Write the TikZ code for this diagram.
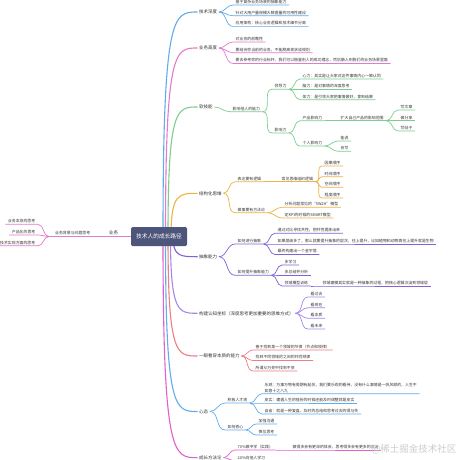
\documentclass[tikz,border=0pt]{standalone}
\usepackage{fontspec}
\setmainfont{Noto Sans CJK SC}
\usepackage{xcolor}
\usepackage{tikz}
\usetikzlibrary{positioning, backgrounds, calc}

\definecolor{rootbg}{RGB}{77,85,122}
\definecolor{cBlue}{RGB}{98,172,236}
\definecolor{cPink}{RGB}{228,122,204}
\definecolor{cGreen}{RGB}{125,206,142}
\definecolor{cGold}{RGB}{234,181,66}
\definecolor{cViolet}{RGB}{132,96,214}
\definecolor{cLilac}{RGB}{164,136,236}
\definecolor{cRed}{RGB}{240,124,132}
\definecolor{cMagenta}{RGB}{226,96,204}
\definecolor{inkgray}{RGB}{51,51,51}

\tikzset{
  %% Central topic
  rootbox/.style={
    rectangle, rounded corners=1.5pt, fill=rootbg, text=white,
    font=\fontsize{5.7}{6.5}\selectfont,
    minimum width=56pt, minimum height=19pt, inner sep=2pt
  },
  %% Main branch label
  topic/.style={
    font=\fontsize{4.5}{5.2}\selectfont, text=inkgray,
    inner xsep=1.5pt, inner ysep=1pt, anchor=west
  },
  %% Underlined text
  item/.style={
    font=\fontsize{3.9}{5.3}\selectfont, text=inkgray,
    inner xsep=2.5pt, inner ysep=1pt, anchor=south west
  },
  %% Lines
  twig/.style={draw=#1, line width=0.7pt},
  twig/.default=cBlue,
  trunk/.style={draw=#1, line width=1.1pt},
  trunk/.default=cBlue,
  %% Watermark
  wmark/.style={font=\fontsize{9.5}{10}\selectfont, text=black!20, inner sep=0pt}
}

\begin{document}
\begin{tikzpicture}[x=1pt, y=-1pt]
  \useasboundingbox (0,0) rectangle (460,460);

  %% Centre
  \node[rootbox] (root) at (159,236.5) {技术人的成长路径};

  %% Left: business
  \node[item, anchor=south east, minimum width=34pt,
        font=\fontsize{4.5}{5.2}\selectfont] (biz) at (root.west) {业务};
  \node[item, anchor=south east, minimum width=47pt] (bizbg) at (biz.south west)
        {业务背景与问题思考};
  \node[item, anchor=south east] (bizA) at (38,224.3) {业务本身的思考};
  \node[item, anchor=south east] (bizB) at (38,235)   {产品化的思考};
  \node[item, anchor=south east] (bizC) at (38,245.7) {技术实现方面的思考};
  \draw[twig=cPink] (bizbg.south west) -- (root.west);
  \foreach \b in {bizA, bizB, bizC}
    \draw[twig=cPink] (bizbg.south west) to[out=180,in=0] (\b.south east) -- (\b.south west);

  %% Technical depth
  \node[topic] (depth) at (197.5,12) {技术深度};
  \node[item] (depthA) at (233,5)    {基于复杂业务场景的抽象能力};
  \node[item] (depthB) at (233,15.7) {针对大用户量规模大数据量的可用性建设};
  \node[item] (depthC) at (233,26.4) {应用架构：核心业务逻辑和技术细节分离};
  \foreach \b in {depthA, depthB, depthC}
    \draw[twig=cBlue] (depth.east) to[out=0,in=180] (\b.south west) -- (\b.south east);

  %% Business height
  \node[topic] (height) at (197.5,48) {业务高度};
  \node[item] (heightA) at (233,42)   {对业务的前瞻性};
  \node[item] (heightB) at (233,52.7) {要结合你当前的业务，不能脱离现状谈规划};
  \node[item] (heightC) at (233,63.4)
        {要去参考你的行业标杆，我们可以借鉴别人的成功理念，然后融入到我们的业务场景里面};
  \foreach \b in {heightA, heightB, heightC}
    \draw[twig=cPink] (height.east) to[out=0,in=180] (\b.south west) -- (\b.south east);

  %% Soft skills
  \node[topic] (soft) at (197.5,107) {软技能};
  \node[item] (sway)  at (230,111.7) {影响他人的能力};
  \node[item] (lead)  at (272,89.3)  {领导力};
  \node[item] (leadA) at (300,79)    {心力：其实是让大家对这件事情内心一致认同};
  \node[item] (leadB) at (300,89.3)  {脑力：是对事情的深度思考};
  \node[item] (leadC) at (300,99.7)  {体力：是引领大家把事情做好，拿到结果};
  \node[item] (infl)  at (272,133)   {影响力};
  \node[item] (prod)  at (300,120.7) {产品影响力};
  \node[item] (prodA) at (338,120.7) {扩大自己产品的影响范围};
  \node[item] (essay) at (398,110)   {写文章};
  \node[item] (share) at (398,120.7) {做分享};
  \node[item] (post)  at (398,131)   {写帖子};
  \node[item] (self)  at (300,146)   {个人影响力};
  \node[item] (speak) at (338,141)   {能说};
  \node[item] (pen)   at (338,151.3) {会写};
  \draw[twig=cGreen] (soft.east) to[out=0,in=180] (sway.south west) -- (sway.south east);
  \foreach \a/\b in {sway/lead, lead/leadA, lead/leadB, lead/leadC, sway/infl,
                     infl/prod, prod/prodA, prodA/essay, prodA/share, prodA/post,
                     infl/self, self/speak, self/pen}
    \draw[twig=cGreen] (\a.south east) to[out=0,in=180] (\b.south west) -- (\b.south east);

  %% Structured thinking
  \node[topic] (frame) at (197.5,193.3) {结构化思维};
  \node[item] (logic) at (235,181.7) {表达要有逻辑};
  \node[item] (order) at (279,181.7) {常见思维组织逻辑};
  \node[item] (ordA)  at (322,166)   {因果顺序};
  \node[item] (ordB)  at (322,176.7) {时间顺序};
  \node[item] (ordC)  at (322,187.3) {空间顺序};
  \node[item] (ordD)  at (322,198)   {程度顺序};
  \node[item] (way)   at (235,212.7) {做事要有方法论};
  \node[item] (wayA)  at (282,207.3) {分析问题常见的“5W2H”模型};
  \node[item] (wayB)  at (282,218)   {定KPI的时候的SMART模型};
  \foreach \b in {logic, way}
    \draw[twig=cGold] (frame.east) to[out=0,in=180] (\b.south west) -- (\b.south east);
  \foreach \a/\b in {logic/order, order/ordA, order/ordB, order/ordC, order/ordD,
                     way/wayA, way/wayB}
    \draw[twig=cGold] (\a.south east) to[out=0,in=180] (\b.south west) -- (\b.south east);

  %% Abstraction
  \node[topic] (abst) at (197.5,256.7) {抽象能力};
  \node[item] (howto)  at (235,244)   {如何进行抽象};
  \node[item] (howA)   at (275,233.3) {通过对比寻找共性，把共性提炼出来};
  \node[item] (howB)   at (275,244)
        {如果层级多了，那么就要提升抽象的层次，往上提升，比如植物和动物再往上提升就是生物};
  \node[item] (howC)   at (275,254.5) {最终构建出一个金字塔};
  \node[item] (raise)  at (235,275.3) {如何提升抽象能力};
  \node[item] (raiseA) at (282,265)   {多学习};
  \node[item] (raiseB) at (282,275.5) {多总结并分析};
  \node[item] (raiseC) at (282,286)   {领域模型训练};
  \node[item] (model)  at (320,286)   {领域建模其实就是一种抽象的过程，把核心逻辑沉淀到领域层};
  \foreach \b in {howto, raise}
    \draw[twig=cViolet] (abst.east) to[out=0,in=180] (\b.south west) -- (\b.south east);
  \foreach \a/\b in {howto/howA, howto/howB, howto/howC,
                     raise/raiseA, raise/raiseB, raise/raiseC, raiseC/model}
    \draw[twig=cViolet] (\a.south east) to[out=0,in=180] (\b.south west) -- (\b.south east);

  %% Cognitive coordinates
  \node[topic] (cogn) at (197.5,313.3) {构建认知坐标（深度思考更加重要的思维方式）};
  \node[item] (past) at (308,297)   {看过去};
  \node[item] (now)  at (308,307.7) {看现在};
  \node[item] (core) at (308,318.3) {看本质};
  \node[item] (fut)  at (308,329)   {看未来};
  \foreach \b in {past, now, core, fut}
    \draw[twig=cLilac] (cogn.east) to[out=0,in=180] (\b.south west) -- (\b.south east);

  %% Seeing the essence
  \node[topic] (sight) at (197.5,356) {一眼看穿本质的能力};
  \node[item] (sightA) at (253,350)   {善于找到某一个领域的节律（节点和规律）};
  \node[item] (sightB) at (253,360.5) {找到不同领域的之间的共同规律};
  \node[item] (sightC) at (253,371)   {所谓从万变中找到不变};
  \foreach \b in {sightA, sightB, sightC}
    \draw[twig=cRed] (sight.east) to[out=0,in=180] (\b.south west) -- (\b.south east);

  %% Mindset
  \node[topic] (mood) at (197.5,411.5) {心态};
  \node[item] (talent) at (225,403) {积极人才观};
  \node[item, align=left] (talA) at (262,393.7)
        {乐观：万事万物有周期有起伏，我们要乐观的看待，没有什么事情是一帆风顺的，人生不\\如意十之八九};
  \node[item] (talB)  at (262,403) {皮实：遭遇人生的挫折的时候还能及时调整就是皮实};
  \node[item] (talC)  at (262,414) {自省：就是一种复盘，及时的总结和思考过去的得与失};
  \node[item] (heal)  at (225,430) {如何修心};
  \node[item] (healA) at (256,424) {加强沟通};
  \node[item] (healB) at (256,435) {换位思考};
  \foreach \b in {talent, heal}
    \draw[twig=cBlue] (mood.east) to[out=0,in=180] (\b.south west) -- (\b.south east);
  \foreach \a/\b in {talent/talA, talent/talB, talent/talC, heal/healA, heal/healB}
    \draw[twig=cBlue] (\a.south east) to[out=0,in=180] (\b.south west) -- (\b.south east);

  %% Growth method
  \node[topic] (grow) at (197.5,457.7) {成长方法论};
  \node[item] (doing)  at (235,450)   {70\%做中学（实践）};
  \node[item] (doingA) at (290,450)   {做得多会有更深的体会，思考得多会有更多的沉淀};
  \node[item] (peers)  at (235,460.7) {20\%向他人学习};
  \foreach \b in {doing, peers}
    \draw[twig=cMagenta] (grow.east) to[out=0,in=180] (\b.south west) -- (\b.south east);
  \draw[twig=cMagenta] (doing.south east) -- (doingA.south west) -- (doingA.south east);

  %% Watermark
  \node[wmark] (wm) at (414,449) {@稀土掘金技术社区};

  %% Trunks from the centre
  \begin{scope}[on background layer]
    \fill[white] (0,0) rectangle (460,460);
    \foreach \t/\c/\s in {depth/cBlue/4, height/cPink/6.5, soft/cGreen/9,
                          frame/cGold/12, abst/cViolet/14, cogn/cLilac/11.5,
                          sight/cRed/9, mood/cBlue/6.5, grow/cMagenta/4}
    {
      \coordinate (bend) at ([xshift=\s pt]root.center);
      \draw[trunk=\c] (bend) .. controls (bend |- \t.west)
            and ($(bend |- \t.west)!0.3!(\t.west)$) .. (\t.west);
    }
  \end{scope}

\end{tikzpicture}
\end{document}
